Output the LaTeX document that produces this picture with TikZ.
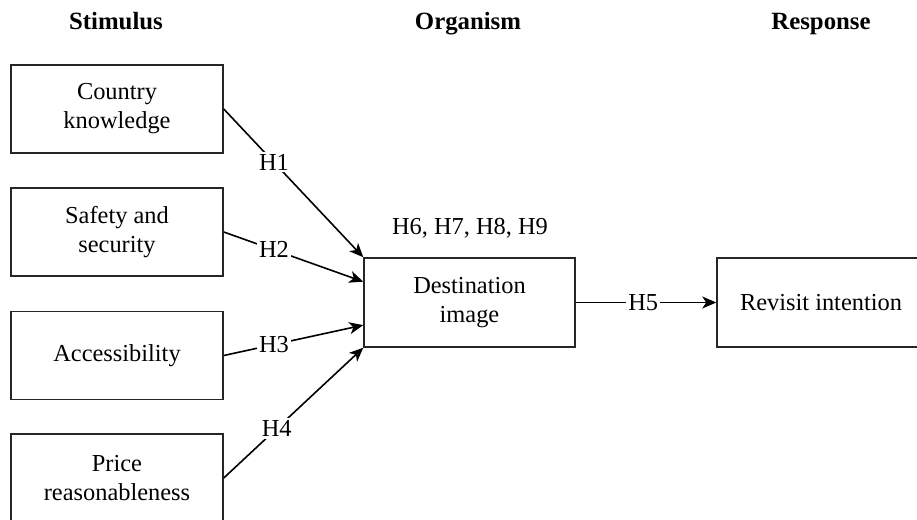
\documentclass[tikz,border=0pt]{standalone}
\usepackage{fontspec}
\setmainfont{Liberation Serif}
\usetikzlibrary{arrows.meta,calc}
\begin{document}
\begin{tikzpicture}[x=0.5pt,y=-0.5pt,
  txt/.style={font=\fontsize{12.2}{14.5}\selectfont},
  box/.style={txt,draw=black!85,line width=0.75pt,minimum width=106pt,minimum height=44pt,inner sep=0pt,align=center},
  hdr/.style={font=\fontsize{12.4}{14.5}\selectfont\bfseries,anchor=base},
  lab/.style={txt,fill=white,inner sep=1pt},
  arr/.style={line width=0.8pt,draw=black,-{Stealth[length=7pt,width=6pt,inset=2pt]}}]
\useasboundingbox (0,0) rectangle (917,520);
\clip (0,0) rectangle (917,520);
% headers
\node[hdr] (hs) at (116,29) {Stimulus};
\node[hdr] (ho) at (468,29) {Organism};
\node[hdr] (hr) at (821,29) {Response};
% stimulus boxes
\node[box] (c1) at (117,109) {Country\\knowledge};
\node[box] (c2) at (117,232) {Safety and\\security};
\node[box] (c3) at (117,355.5) {Accessibility};
\node[box] (c4) at (117,478) {Price\\reasonableness};
% organism
\node[box,minimum width=105.5pt,minimum height=44.5pt] (dest) at (469.5,302.5) {Destination\\image};
\node[txt] (h69) at (470,228) {H6, H7, H8, H9};
% response
\node[box,minimum width=104pt,minimum height=44.5pt] (rev) at (821,302.5) {Revisit intention};
% connectors
\coordinate (e2) at ($(dest.north west)!0.27!(dest.south west)$);
\coordinate (e3) at ($(dest.north west)!0.75!(dest.south west)$);
\draw[arr] (c1.east) -- node[lab,pos=0.36]{H1} (dest.north west);
\draw[arr] (c2.east) -- node[lab,pos=0.36]{H2} (e2);
\draw[arr] (c3.east) -- node[lab,pos=0.36]{H3} (e3);
\draw[arr] (c4.east) -- node[lab,pos=0.38]{H4} (dest.south west);
\draw[arr] (dest.east) -- node[lab,pos=0.48]{H5} (rev.west);
\end{tikzpicture}
\end{document}
